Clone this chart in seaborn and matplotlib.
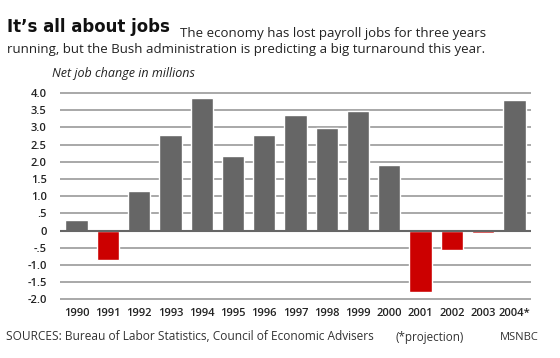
import matplotlib
matplotlib.use("Agg")
import matplotlib.pyplot as plt
import numpy as np
import pandas as pd
import seaborn as sns

# data
years = ['1990', '1991', '1992', '1993', '1994', '1995', '1996', '1997',
         '1998', '1999', '2000', '2001', '2002', '2003', '2004*']
job_change = [0.31, -0.85, 1.16, 2.78, 3.86, 2.16, 2.78, 3.36,
              2.99, 3.47, 1.90, -1.77, -0.56, -0.07, 3.79]
y_ticks = [4.0, 3.5, 3.0, 2.5, 2.0, 1.5, 1.0, 0.5, 0, -0.5, -1.0, -1.5, -2.0]
y_labels = ['4.0', '3.5', '3.0', '2.5', '2.0', '1.5', '1.0', '.5', '0',
            '-.5', '-1.0', '-1.5', '-2.0']

df = pd.DataFrame({'year': years, 'change': job_change})
colors = ['#666666' if v >= 0 else '#cc0000' for v in job_change]

sns.set_style("white")
plt.rcParams['font.family'] = ['Open Sans', 'DejaVu Sans']

fig = plt.figure(figsize=(5.6, 3.58), dpi=100)
ax = fig.add_axes([60 / 560, 55.1 / 358, 471 / 560, 213.35 / 358])

sns.barplot(data=df, x='year', y='change', hue='year', palette=colors,
            legend=False, width=0.71, saturation=1, ax=ax, zorder=3)

ax.set_xlim(-0.53, 14.53)
ax.set_ylim(-2.1, 4.1)
for t in y_ticks:
    ax.axhline(t, color='#666666' if t == 0 else '#a8a8a8',
               lw=1.5 if t == 0 else 1.4, zorder=1 if t != 0 else 4)
ax.set_yticks(y_ticks)
ax.set_yticklabels(y_labels)
ax.tick_params(axis='y', length=0, pad=9.5, labelsize=8, labelcolor='#222222')
ax.tick_params(axis='x', length=0, pad=3.5, labelsize=8, labelcolor='#222222')
for lab in ax.get_xticklabels() + ax.get_yticklabels():
    lab.set_fontweight('semibold')
ax.set_xlabel('')
ax.set_ylabel('')
sns.despine(ax=ax, left=True, bottom=True)

# header text
fig.text(7 / 560, 1 - 32 / 358, "It\u2019s all about jobs", fontsize=13.2,
         fontweight='bold', family='DejaVu Sans', fontstretch='condensed',
         va='baseline', ha='left', color='#111111')
fig.text(180 / 560, 1 - 33 / 358, "The economy has lost payroll jobs for three years",
         fontsize=9.5, va='center', ha='left', color='#222222')
fig.text(7 / 560, 1 - 50 / 358,
         "running, but the Bush administration is predicting a big turnaround this year.",
         fontsize=9.5, va='center', ha='left', color='#222222')
fig.text(52 / 560, 1 - 74 / 358, "Net job change in millions", fontsize=9,
         style='italic', va='center', ha='left', color='#222222')

# footer
fig.text(6 / 560, 1 - 337 / 358,
         "SOURCES: Bureau of Labor Statistics, Council of Economic Advisers",
         fontsize=8.6, va='center', ha='left', color='#333333')
fig.text(395 / 560, 1 - 337 / 358, "(*projection)", fontsize=8.4,
         va='center', ha='left', color='#333333')
fig.text(500 / 560, 1 - 337 / 358, "MSNBC", fontsize=8,
         va='center', ha='left', color='#333333')

fig.savefig('out.png', dpi=100)
